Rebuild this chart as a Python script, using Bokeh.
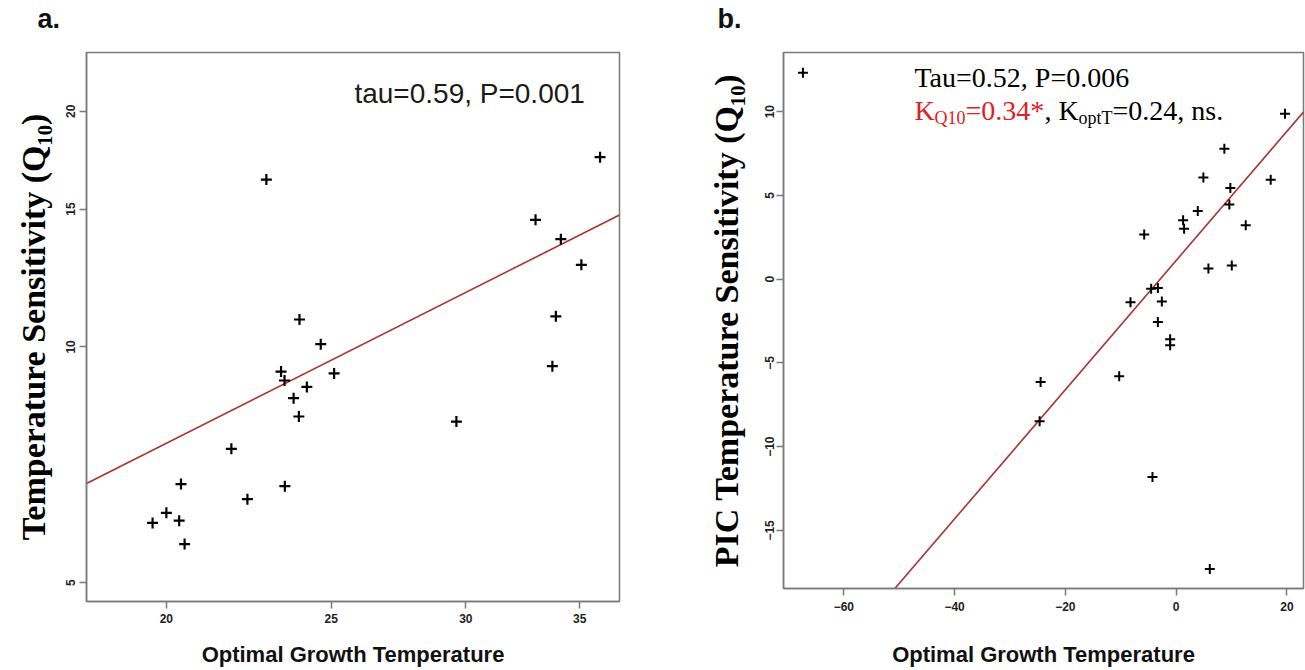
import numpy as np
from bokeh.plotting import figure
from bokeh.models import Range1d, FixedTicker, Label, PrintfTickFormatter, Title
from bokeh.layouts import row
from bokeh.embed import file_html
from bokeh.resources import INLINE

# ---------------- data: panel a (log-log) ----------------
a_opt_temp = [23.95, 24.65, 23.36, 23.47, 25.10, 24.19, 23.76, 23.93, 21.84, 20.40,
              23.48, 22.32, 20.00, 19.63, 20.35, 20.50, 35.98, 32.97, 34.12, 35.08,
              33.89, 33.73, 29.62, 22.90]
a_q10 = [10.84, 10.08, 9.30, 9.06, 9.25, 8.89, 8.60, 8.15, 7.41, 6.68,
         6.64, 6.39, 6.14, 5.96, 6.00, 5.60, 17.47, 14.53, 13.73, 12.73,
         10.94, 9.45, 8.03, 16.36]
a_xticks = [20, 25, 30, 35]
a_yticks = [5, 10, 15, 20]
a_fit_intercept = -1.258   # ln(Q10) = intercept + slope * ln(T)
a_fit_slope = 1.094
a_stat_text = "tau=0.59, P=0.001"

# ---------------- data: panel b (PIC) ----------------
b_opt_temp = [19.66, 8.71, 4.92, 17.08, 9.79, 9.61, 3.91, 1.26, 1.44, 12.57,
              -5.77, 5.83, 10.05, -4.51, -3.30, -8.24, -2.58, -3.30, -1.08, -1.08,
              -10.28, -4.27, 6.08, -67.39, -24.47, -24.65]
b_q10 = [9.88, 7.79, 6.06, 5.94, 5.44, 4.45, 4.06, 3.51, 3.01, 3.21,
         2.67, 0.63, 0.82, -0.57, -0.53, -1.38, -1.34, -2.56, -3.59, -3.95,
         -5.80, -11.81, -17.30, 12.32, -6.14, -8.48]
b_xticks = [-60, -40, -20, 0, 20]
b_yticks = [-15, -10, -5, 0, 5, 10]
b_fit_intercept = 1.11
b_fit_slope = 0.3855

GRAY = "#7a7a7a"
LINE_RED = "#a8332f"
TEXT_RED = "#e0201c"
BASE_UP = 10   # pixel lift so text baselines land where the reference has them


def style(p, title, title_offset, left_std, left_title_std, bot_std, bot_title_std):
    p.grid.visible = False
    p.outline_line_color = GRAY
    p.outline_line_width = 1.5
    p.background_fill_color = "white"
    p.border_fill_color = "white"
    p.title.text = title
    p.title.text_font = "Liberation Sans"
    p.title.text_font_size = "27px"
    p.title.text_font_style = "bold"
    p.title.text_color = "#111111"
    p.title.align = "left"
    p.title.vertical_align = "bottom"
    p.title.offset = title_offset
    p.title.standoff = 0
    # a blank spacer title between the panel tag and the frame lifts the tag
    p.add_layout(Title(text=" ", text_font_size="15px", standoff=0), "above")
    for ax in p.axis:
        ax.axis_line_color = GRAY
        ax.axis_line_width = 1.5
        ax.major_tick_line_color = GRAY
        ax.major_tick_line_width = 1.5
        ax.major_tick_in = 0
        ax.major_tick_out = 7
        ax.minor_tick_line_color = None
        ax.major_label_text_font = "Liberation Sans"
        ax.major_label_text_font_style = "bold"
        ax.major_label_text_font_size = "12px"
        ax.major_label_text_color = "#222222"
    p.yaxis.major_label_orientation = "vertical"
    p.yaxis.major_label_standoff = left_std
    p.yaxis.axis_label_standoff = left_title_std
    p.yaxis.axis_label_text_font = "Liberation Serif"
    p.yaxis.axis_label_text_font_style = "bold"
    p.yaxis.axis_label_text_font_size = "34px"
    p.yaxis.axis_label_text_color = "black"
    p.xaxis.major_label_standoff = bot_std
    p.xaxis.axis_label_standoff = bot_title_std
    p.xaxis.axis_label = "Optimal Growth Temperature"
    p.xaxis.axis_label_text_font = "Liberation Sans"
    p.xaxis.axis_label_text_font_style = "bold"
    p.xaxis.axis_label_text_font_size = "22px"
    p.xaxis.axis_label_text_color = "#111111"


# ---------------- panel a ----------------
pa = figure(width=650, height=670, x_axis_type="log", y_axis_type="log",
            x_range=Range1d(17.95, 36.94), y_range=Range1d(4.73, 23.77),
            output_backend="svg", toolbar_location=None, frame_align=False,
            min_border_left=86, min_border_right=31, min_border_top=52, min_border_bottom=69)
style(pa, "a.", -49, 4, 12, 5, 16)
pa.xaxis.ticker = FixedTicker(ticks=a_xticks)
pa.yaxis.ticker = FixedTicker(ticks=a_yticks)
pa.xaxis.formatter = PrintfTickFormatter(format="%d")
pa.yaxis.formatter = PrintfTickFormatter(format="%d")
pa.yaxis.axis_label = "Temperature Sensitivity (Q\u2081\u2080)"

ax_ends = np.array([pa.x_range.start, pa.x_range.end])
pa.line(ax_ends, np.exp(a_fit_intercept + a_fit_slope * np.log(ax_ends)),
        line_color=LINE_RED, line_width=1.6)
pa.scatter(a_opt_temp, a_q10, marker="cross", size=11, line_width=2.2, line_color="black")
pa.add_layout(Label(x=25.80, y=20.46, y_offset=BASE_UP, text=a_stat_text,
                    text_font="Liberation Sans", text_font_size="28px", text_color="#1a1a1a",
                    text_align="left", text_baseline="alphabetic"))

# ---------------- panel b ----------------
pb = figure(width=655, height=670,
            x_range=Range1d(-70.9, 23.0), y_range=Range1d(-18.47, 13.53),
            output_backend="svg", toolbar_location=None, frame_align=False,
            min_border_left=133, min_border_right=2, min_border_top=52, min_border_bottom=82)
style(pb, "b.", -66, 2, 18, 6, 28)
pb.xaxis.ticker = FixedTicker(ticks=b_xticks)
pb.yaxis.ticker = FixedTicker(ticks=b_yticks)
pb.yaxis.axis_label = "PIC Temperature Sensitivity (Q\u2081\u2080)"

bx_ends = np.array([pb.x_range.start, pb.x_range.end])
pb.line(bx_ends, b_fit_intercept + b_fit_slope * bx_ends, line_color=LINE_RED, line_width=1.6)
pb.scatter(b_opt_temp, b_q10, marker="cross", size=10, line_width=2.0, line_color="black")

tx, ty = -47.25, 11.44
pieces = [
    ("Tau=0.52, P=0.006", "28px", "black", 0, 0),
    ("K", "28px", TEXT_RED, 0, -33),
    ("Q10", "18px", TEXT_RED, 20, -40),
    ("=0.34*", "28px", TEXT_RED, 51, -33),
    (", K", "28px", "black", 130, -33),
    ("optT", "18px", "black", 164, -40),
    ("=0.24, ns.", "28px", "black", 198, -33),
]
for txt, fs, col, dx, dy in pieces:
    pb.add_layout(Label(x=tx, y=ty, x_offset=dx, y_offset=dy + BASE_UP, text=txt,
                        text_font="Liberation Serif", text_font_size=fs, text_color=col,
                        text_align="left", text_baseline="alphabetic"))

layout = row(pa, pb)
open("out.html", "w").write(file_html(layout, INLINE))
